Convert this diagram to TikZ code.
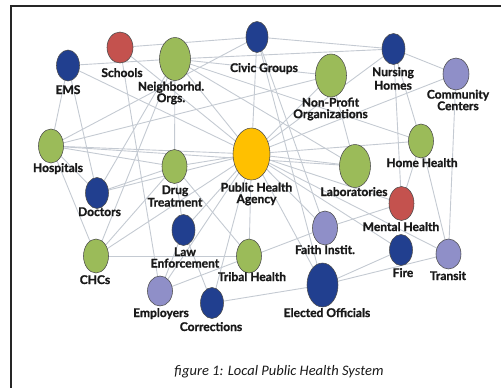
\documentclass[tikz,border=0pt]{standalone}
\usepackage{fontspec}
\newfontfamily\lato{Lato}[BoldFeatures={FakeBold=1.3}]
\newfontfamily\carlito{Carlito}
\usetikzlibrary{shapes.geometric,backgrounds}
\definecolor{blueN}{RGB}{33,63,143}
\definecolor{redN}{RGB}{196,82,78}
\definecolor{greenN}{RGB}{155,187,89}
\definecolor{yellowN}{RGB}{255,192,0}
\definecolor{lavN}{RGB}{143,143,200}
\definecolor{edgeC}{RGB}{196,202,210}
\definecolor{txtC}{RGB}{25,25,25}
\tikzset{
  nd/.style={ellipse, draw=black!70, line width=0.55pt, inner sep=0pt},
  sm/.style={minimum width=23pt, minimum height=31pt},
  md/.style={minimum width=25pt, minimum height=34pt},
  lg/.style={minimum width=31pt, minimum height=43pt},
  blu/.style={nd, fill=blueN},
  red/.style={nd, fill=redN},
  grn/.style={nd, fill=greenN},
  yel/.style={nd, fill=yellowN},
  lav/.style={nd, fill=lavN},
  lbl/.style={font=\lato\bfseries\fontsize{12}{11.5}\selectfont, text=txtC, align=center, inner sep=0pt},
  edge/.style={draw=edgeC, line width=0.9pt},
  frame/.style={draw=black!85, line width=1.8pt}
}
\begin{document}
\begin{tikzpicture}[x=1pt,y=-1pt]
\useasboundingbox (0,0) rectangle (501,388);
\coordinate (f1) at (501,6);
\coordinate (f2) at (11,6);
\coordinate (f3) at (11,388);
\draw[frame] (f1) -- (f2) -- (f3);

% nodes
\node[blu, minimum width=22pt, minimum height=31pt] (civic) at (257,37) {};
\node[red, minimum width=26pt, minimum height=31pt] (schools) at (120,47.5) {};
\node[grn, lg] (neigh) at (175,59) {};
\node[blu, sm] (ems) at (68,65.5) {};
\node[blu, sm] (nursing) at (393.5,49) {};
\node[grn, lg] (nonprofit) at (331,75.5) {};
\node[lav, minimum width=26pt, minimum height=32pt] (community) at (456,74) {};
\node[grn, md] (hosp) at (51,146) {};
\node[yel, minimum width=37pt, minimum height=52pt] (pha) at (251.5,154) {};
\node[grn, lg] (lab) at (355,166) {};
\node[grn, md] (home) at (421,141) {};
\node[blu, sm] (doctors) at (97,193) {};
\node[grn, md] (drug) at (174.5,166.5) {};
\node[red, md] (mental) at (401.5,203.5) {};
\node[blu, sm] (law) at (183.5,230) {};
\node[lav, md] (faith) at (325,228) {};
\node[blu, sm] (fire) at (401,250) {};
\node[lav, minimum width=25pt, minimum height=30pt] (transit) at (448.5,254) {};
\node[grn, md] (chcs) at (96,256) {};
\node[grn, md] (tribal) at (249,256) {};
\node[lav, minimum width=25pt, minimum height=30pt] (employers) at (160,291) {};
\node[blu, sm] (corrections) at (212,303) {};
\node[blu, minimum width=31pt, minimum height=44pt] (elected) at (322.5,285) {};

% labels
\node[lbl, anchor=base] (civic-l) at (264,72) {Civic Groups};
\node[lbl, anchor=base] (schools-l) at (122,77) {Schools};
\node[lbl] (neigh-l) at (171,93) {Neighborhd.\\Orgs.};
\node[lbl, anchor=base] (ems-l) at (68,94) {EMS};
\node[lbl] (nursing-l) at (393,78.5) {Nursing\\[2pt]Homes};
\node[lbl] (nonprofit-l) at (330.5,109) {Non-Profit\\Organizations};
\node[lbl] (community-l) at (458,100) {Community\\Centers};
\node[lbl, anchor=base] (hosp-l) at (58,172) {Hospitals};
\node[lbl] (pha-l) at (256.5,194) {Public Health\\Agency};
\node[lbl, anchor=base] (lab-l) at (354,196) {Laboratories};
\node[lbl, anchor=base] (home-l) at (422,167) {Home Health};
\node[lbl, anchor=base] (doctors-l) at (99.5,216) {Doctors};
\node[lbl] (drug-l) at (175,196) {Drug\\[1pt]Treatment};
\node[lbl, anchor=base] (mental-l) at (401,231) {Mental Health};
\node[lbl] (law-l) at (185,257.5) {Law\\Enforcement};
\node[lbl, anchor=base] (faith-l) at (325,254) {Faith Instit.};
\node[lbl, anchor=base] (fire-l) at (403,277) {Fire};
\node[lbl, anchor=base] (transit-l) at (448,280) {Transit};
\node[lbl, anchor=base] (chcs-l) at (95,284) {CHCs};
\node[lbl, anchor=base] (tribal-l) at (252,281) {Tribal Health};
\node[lbl, anchor=base] (employers-l) at (161,317) {Employers};
\node[lbl, anchor=base] (corrections-l) at (211,331) {Corrections};
\node[lbl, anchor=base] (elected-l) at (327,317) {Elected Officials};

\node[font=\carlito\itshape\fontsize{14.5}{16}\selectfont, text=black!90, inner sep=0pt] (caption) at (279,372) {figure 1: Local Public Health System};

% connectors
\begin{scope}[on background layer]
\foreach \a/\b in {schools/civic, schools/pha, schools/employers,
  ems/neigh, ems/hosp, ems/doctors, ems/pha,
  neigh/nursing, neigh/nonprofit, neigh/home, neigh/pha, neigh/drug, neigh/doctors, neigh/chcs, neigh/lab,
  civic/nursing, civic/pha, civic/faith, civic/elected,
  nursing/community, nursing/home, nursing/mental, nursing/pha,
  nonprofit/pha, nonprofit/lab,
  community/pha, community/transit,
  hosp/nonprofit, hosp/civic, hosp/pha, hosp/lab, hosp/drug, hosp/doctors, hosp/chcs,
  doctors/drug, doctors/pha,
  drug/pha, drug/law, drug/tribal,
  chcs/drug, chcs/pha, chcs/tribal,
  pha/home, pha/lab, pha/mental, pha/fire, pha/transit, pha/faith, pha/elected, pha/tribal, pha/corrections, pha/law, pha/employers,
  home/mental, home/transit, mental/faith,
  fire/elected, transit/elected, corrections/elected, law/corrections, law/employers, employers/faith}
  \draw[edge] (\a.center) -- (\b.center);
\end{scope}
\end{tikzpicture}
\end{document}
